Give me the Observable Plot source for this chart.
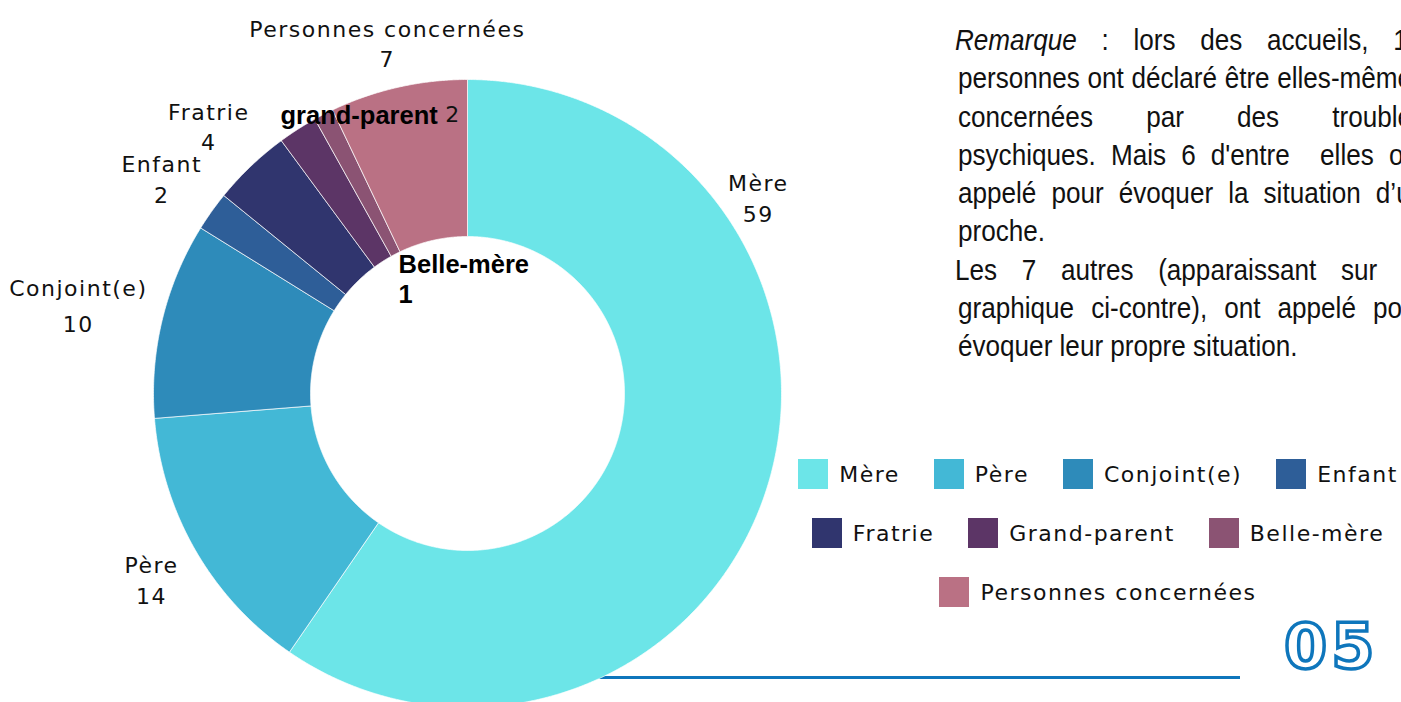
<!DOCTYPE html>
<html><head><meta charset="utf-8">
<script src="https://cdn.jsdelivr.net/npm/d3@7"></script>
<script src="https://cdn.jsdelivr.net/npm/@observablehq/plot@0.6"></script>
<style>
html,body{margin:0;padding:0;background:#fff;overflow:hidden;width:1401px;height:702px;position:relative;}
#chart{position:absolute;left:0;top:0;z-index:2;}
#chart svg{background:transparent !important;}
#rule{position:absolute;left:560px;top:676px;width:680px;height:3px;background:#0E76BC;z-index:1;}
#note{position:absolute;left:958px;top:21px;font-family:"Liberation Sans",Arial,sans-serif;font-size:30px;line-height:38.3px;color:#111;white-space:nowrap;}
#note div{width:537px;text-align:justify;text-align-last:justify;transform:scaleX(0.87);transform-origin:0 0;height:38.3px;}
#note div.last{text-align:left;text-align-last:left;}
#note div.first{margin-left:-3px;}
#legend{position:absolute;left:795px;width:606px;top:0;font-family:"DejaVu Sans",sans-serif;font-size:22px;letter-spacing:1.5px;color:#111;}
#legend .row{position:absolute;left:0;width:100%;display:flex;justify-content:center;align-items:center;height:30px;}
#legend .item{display:flex;align-items:center;margin:0 17px;white-space:nowrap;}
#legend .sw{width:30px;height:30px;margin-right:11px;}
#num{position:absolute;left:1284px;top:610px;font-family:"DejaVu Sans",sans-serif;font-weight:bold;font-size:62px;letter-spacing:4px;color:#fff;-webkit-text-stroke:3.5px #0E76BC;}
</style></head>
<body>
<div id="rule"></div>
<div id="chart"></div>
<div id="note"></div>
<div id="legend"></div>
<div id="num">05</div>
<script>
// ---- data ----
const categories = ["Mère","Père","Conjoint(e)","Enfant","Fratrie","Grand-parent","Belle-mère","Personnes concernées"];
const values = [59, 14, 10, 2, 4, 2, 1, 7];
const labelNames = ["Mère","Père","Conjoint(e)","Enfant","Fratrie","grand-parent","Belle-mère","Personnes concernées"];
const colors = ["#6CE5E8","#43B8D6","#2E8BBA","#2E5E98","#30356E","#5C3566","#8B5373","#BA7184"];
const legendRows = [[0,1,2,3],[4,5,6],[7]];
const noteLines = [
  ["<i>Remarque</i> : lors des accueils, 13", "first"],
  ["personnes ont déclaré être elles-mêmes", ""],
  ["concernées par des troubles", ""],
  ["psychiques. Mais 6 d'entre&nbsp; elles ont", ""],
  ["appelé pour évoquer la situation d’un", ""],
  ["proche.", "last"],
  ["Les 7 autres (apparaissant sur le", "first"],
  ["graphique ci-contre), ont appelé pour", ""],
  ["évoquer leur propre situation.", "last"]
];

// ---- layout (pixels) ----
const R = 314, cx = 467, cy = 393, innerRatio = 0.5;
const labelStyle = ["out","out","out","out","out","inline","inner","out"];
const nudge = {
  "Mère": [-9, -290], "Père": [-44, 28], "Conjoint(e)": [-84, -17], "Enfant": [-50, -34],
  "Fratrie": [-42, -41], "Grand-parent": [163, -14], "Belle-mère": [75, 164], "Personnes concernées": [-11, -45]
};

const rows = categories.map((c, i) => ({cat: c, value: values[i], name: labelNames[i], style: labelStyle[i]}));
const arcs = d3.pie().sort(null).value(d => d.value)(rows);

const pts = [];
arcs.forEach(a => {
  const n = Math.max(4, Math.ceil((a.endAngle - a.startAngle) / 0.005));
  for (let k = 0; k <= n; k++) {
    const t = a.startAngle + (a.endAngle - a.startAngle) * k / n;
    pts.push({cat: a.data.cat, x: Math.sin(t), y: Math.cos(t)});
  }
  for (let k = n; k >= 0; k--) {
    const t = a.startAngle + (a.endAngle - a.startAngle) * k / n;
    pts.push({cat: a.data.cat, x: innerRatio * Math.sin(t), y: innerRatio * Math.cos(t)});
  }
  pts.push({cat: a.data.cat, x: Math.sin(a.startAngle), y: Math.cos(a.startAngle)});
});

const labels = arcs.map(a => {
  const m = (a.startAngle + a.endAngle) / 2;
  const [dx, dy] = nudge[a.data.cat];
  return {...a.data, x: Math.sin(m) + dx / R, y: Math.cos(m) - dy / R};
});

const outFont = "DejaVu Sans, sans-serif";
const boldFont = "Liberation Sans, Arial, sans-serif";

const plot = Plot.plot({
  width: 860, height: 702, margin: 0,
  style: {background: "transparent", overflow: "hidden"},
  x: {domain: [-1, 1], range: [cx - R, cx + R], axis: null},
  y: {domain: [-1, 1], range: [cy + R, cy - R], axis: null},
  color: {domain: categories, range: colors},
  marks: [
    Plot.line(pts, {x: "x", y: "y", z: "cat", fill: "cat", stroke: "white", strokeWidth: 0.7, curve: "linear"}),
    Plot.text(labels.filter(d => d.style === "out" && d.cat !== "Conjoint(e)"), {
      x: "x", y: "y", text: d => d.name + "\n" + d.value, fontSize: 22, fontFamily: outFont,
      lineHeight: 1.4, lineAnchor: "middle", textAnchor: "middle", fill: "#111"}),
    Plot.text(labels.filter(d => d.cat === "Conjoint(e)"), {
      x: "x", y: "y", text: d => d.name + "\n" + d.value, fontSize: 22, fontFamily: outFont,
      lineHeight: 1.65, lineAnchor: "middle", textAnchor: "middle", fill: "#111"}),
    Plot.text(labels.filter(d => d.style === "inner"), {
      x: "x", y: "y", text: d => d.name + "\n" + d.value, fontSize: 25.5, fontFamily: boldFont, fontWeight: "bold",
      lineHeight: 1.18, lineAnchor: "middle", textAnchor: "start", fill: "#000"}),
    Plot.text(labels.filter(d => d.style === "inline"), {
      x: "x", y: "y", text: "name", fontSize: 25.5, fontFamily: boldFont, fontWeight: "bold",
      lineAnchor: "middle", textAnchor: "end", dx: -23, fill: "#000"}),
    Plot.text(labels.filter(d => d.style === "inline"), {
      x: "x", y: "y", text: d => String(d.value), fontSize: 22, fontFamily: outFont,
      lineAnchor: "middle", textAnchor: "end", fill: "#111"})
  ]
});
d3.select(plot).selectAll("g[font-family^='DejaVu'] text").style("letter-spacing", "1.5px");
document.getElementById("chart").appendChild(plot);

// note
document.getElementById("note").innerHTML = noteLines.map(([t, cls]) => `<div class="${cls}">${t}</div>`).join("");

// legend
const rowCenters = [474, 533, 592];
const lg = document.getElementById("legend");
legendRows.forEach((r, ri) => {
  const row = document.createElement("div");
  row.className = "row";
  row.style.top = (rowCenters[ri] - 15) + "px";
  r.forEach(i => {
    const it = document.createElement("div");
    it.className = "item";
    it.innerHTML = `<span class="sw" style="background:${colors[i]}"></span><span>${categories[i]}</span>`;
    row.appendChild(it);
  });
  lg.appendChild(row);
});
</script>
</body></html>
